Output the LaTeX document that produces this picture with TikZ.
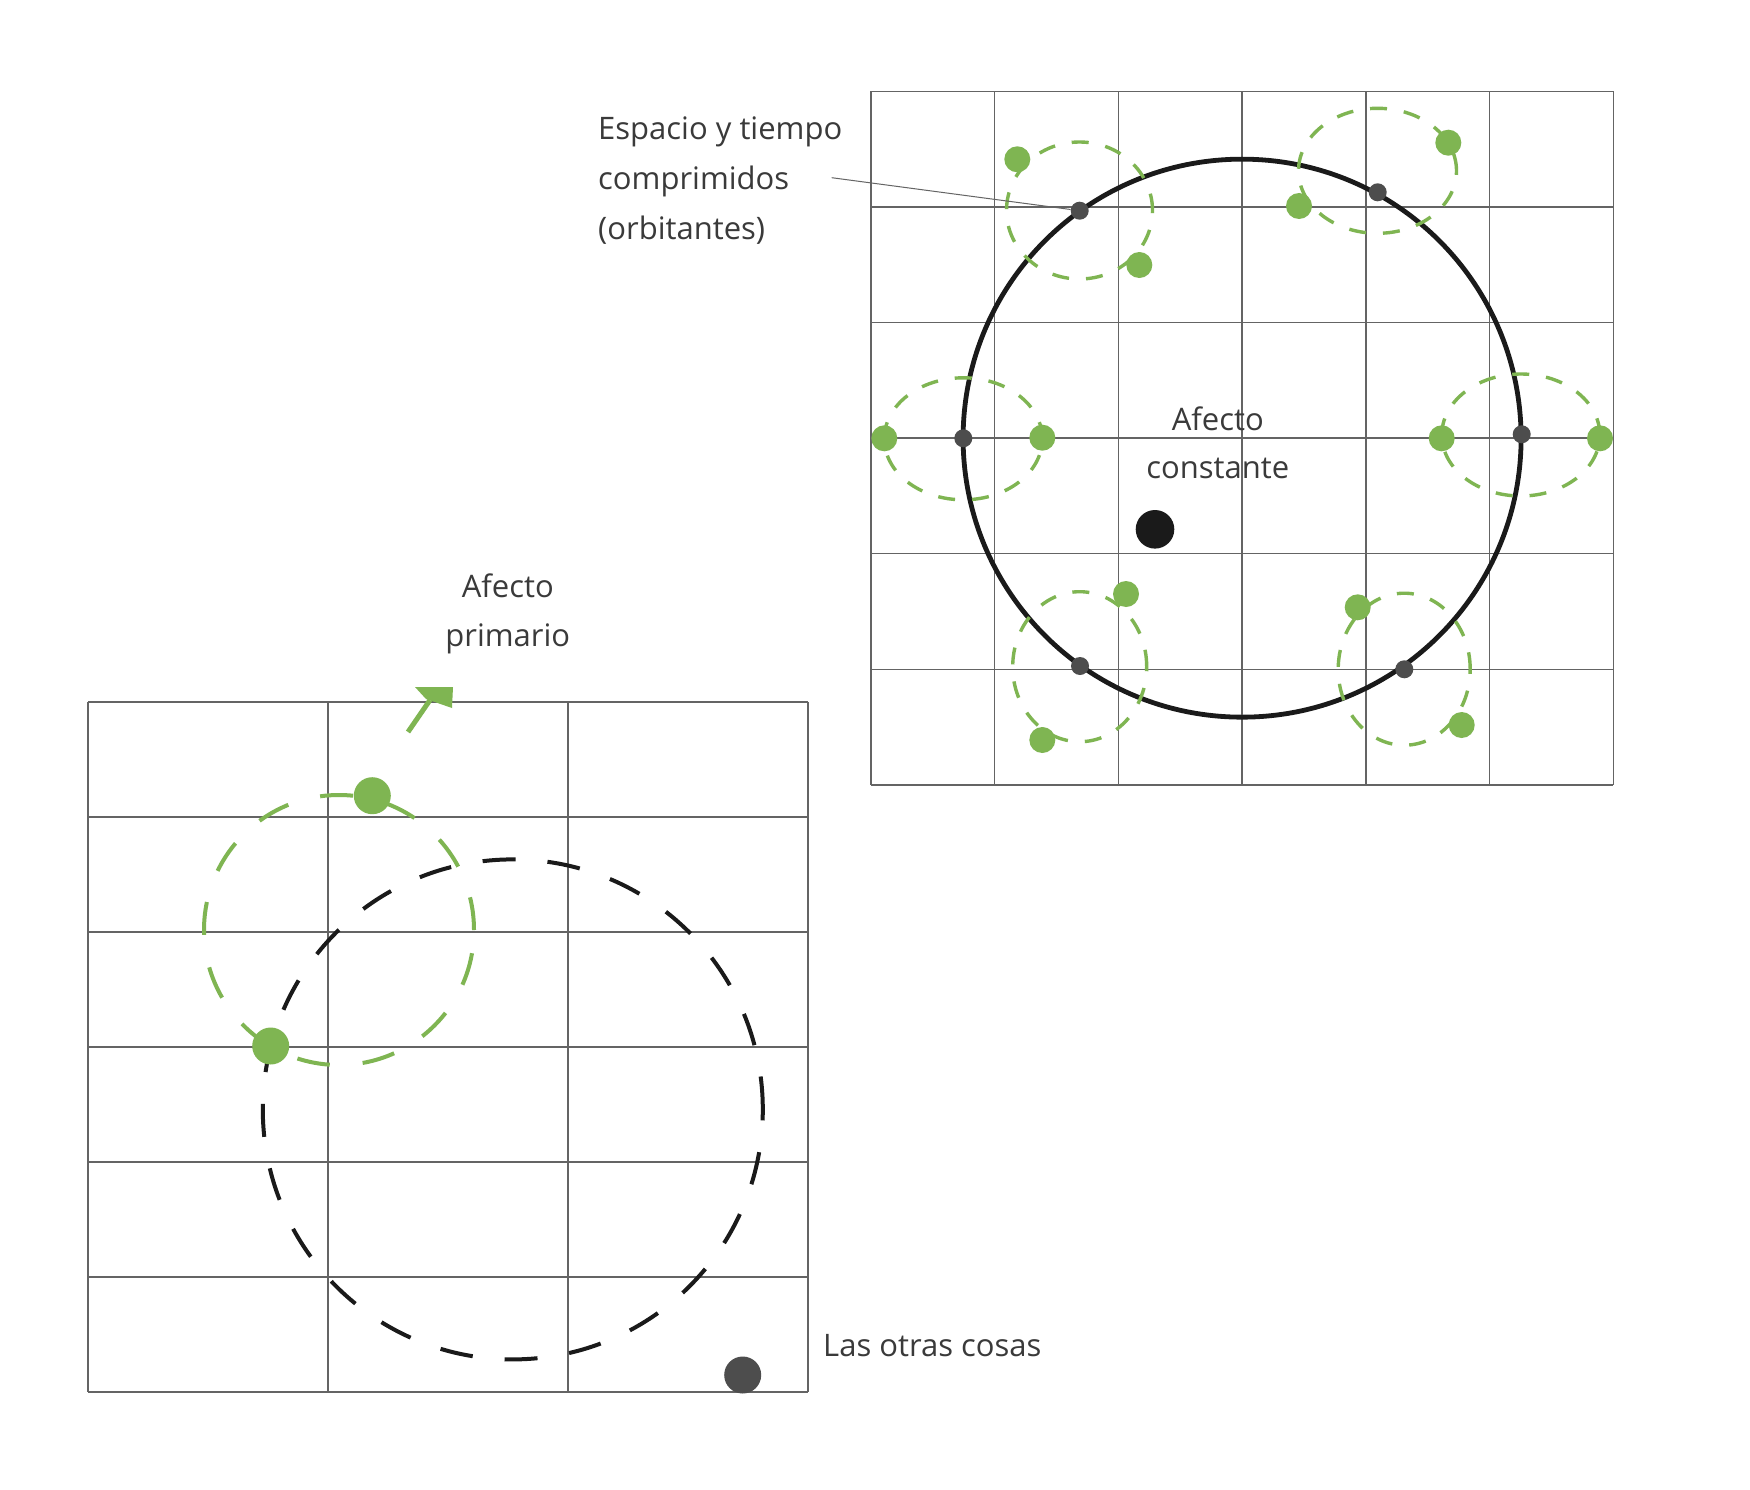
\documentclass[tikz,border=0pt]{standalone}
\usepackage{fontspec}
\setmainfont{Open Sans}
\definecolor{lgreen}{RGB}{127,181,82}
\definecolor{gridc}{RGB}{100,100,100}
\definecolor{txt}{RGB}{58,58,58}
\definecolor{ddot}{RGB}{77,77,77}
\definecolor{bigblack}{RGB}{26,26,26}
\begin{document}
\begin{tikzpicture}[x=1pt,y=-1pt,
  gridline/.style={draw=gridc, line width=1.4pt},
  orbit/.style={draw=lgreen, line width=3.4pt, dash pattern=on 17pt off 17pt},
  bigorbit/.style={draw=lgreen, line width=4pt, dash pattern=on 33pt off 33pt},
  blackorbit/.style={draw=bigblack, line width=4pt, dash pattern=on 33pt off 32pt},
  gdot/.style={circle, fill=lgreen, inner sep=0pt, minimum size=26pt},
  bgdot/.style={circle, fill=lgreen, inner sep=0pt, minimum size=37pt},
  sdot/.style={circle, fill=ddot, inner sep=0pt, minimum size=18pt},
  lbl/.style={text=txt, font=\fontsize{31}{49}\selectfont, inner sep=0pt}
]
\useasboundingbox (0,0) rectangle (1750,1490);
\fill[white] (0,0) rectangle (1750,1490);

% ---------- right grid ----------
\foreach \i in {0,...,6} {
  \draw[gridline] (871+123.7*\i,91.5) -- (871+123.7*\i,784.8);
  \draw[gridline] (871,91.5+115.55*\i) -- (1613.2,91.5+115.55*\i);
}
% big circle
\draw[bigblack, line width=4.8pt] (1242.1,438.15) circle[radius=279pt];

% orbits
\draw[orbit] (1079.5,210.5) ellipse[x radius=73pt, y radius=68.5pt];
\draw[orbit] (1377.5,170.8) ellipse[x radius=79pt, y radius=62.5pt];
\draw[orbit] (963.3,438.8) ellipse[x radius=79pt, y radius=61pt];
\draw[orbit] (1520.8,435) ellipse[x radius=79pt, y radius=61pt];
\draw[orbit] (1079.7,666.7) ellipse[x radius=67pt, y radius=75pt];
\draw[orbit] (1404.2,669.2) ellipse[x radius=66pt, y radius=76pt];

% dark dots on the circle
\node[sdot] (d1) at (1079.7,210.7) {};
\node[sdot] (d2) at (1377.7,192.3) {};
\node[sdot] (d3) at (963.3,438.3) {};
\node[sdot] (d4) at (1521.7,434.3) {};
\node[sdot] (d5) at (1080,666) {};
\node[sdot] (d6) at (1404.3,669.3) {};

% green dots
\node[gdot] (g1a) at (1017.3,159.3) {};
\node[gdot] (g1b) at (1139.3,265) {};
\node[gdot] (g2a) at (1299,206) {};
\node[gdot] (g2b) at (1448.3,142.7) {};
\node[gdot] (g3a) at (884.3,438.3) {};
\node[gdot] (g3b) at (1042.3,437.7) {};
\node[gdot] (g4a) at (1441.7,438.3) {};
\node[gdot] (g4b) at (1600,438.3) {};
\node[gdot] (g5a) at (1126,594) {};
\node[gdot] (g5b) at (1042.3,740) {};
\node[gdot] (g6a) at (1357.7,607.3) {};
\node[gdot] (g6b) at (1461.7,725) {};

% central black dot
\node[circle, fill=bigblack, inner sep=0pt, minimum size=38.6pt] (core) at (1155,529.3) {};

% leader
\coordinate (lead) at (831.7,177.7);
\draw[gridc, line width=1pt] (lead) -- (d1);

% labels right
\node[lbl, anchor=base west] (t1) at (598,139.3) {Espacio y tiempo};
\node[lbl, anchor=base west] (t2) at (598,189.3) {comprimidos};
\node[lbl, anchor=base west] (t3) at (598,239.3) {(orbitantes)};
\node[lbl, anchor=base] (t4) at (1217.8,430) {Afecto};
\node[lbl, anchor=base] (t5) at (1217.8,478.3) {constante};

% ---------- left grid ----------
\foreach \i in {0,...,3} {
  \draw[gridline] (88+240*\i,702) -- (88+240*\i,1392);
}
\foreach \i in {0,...,6} {
  \draw[gridline] (88,702+115*\i) -- (808,702+115*\i);
}
\draw[blackorbit] (512.8,1109.4) circle[radius=250pt];
\draw[bigorbit] (339,930) circle[radius=135pt];

% arrow
\coordinate (arrS) at (408,732);
\coordinate (arrE) at (430,700);
\draw[lgreen, line width=5pt] (arrS) -- (arrE);
\fill[lgreen] (415,687) -- (453,687) -- (452,708) -- (426,699) -- cycle;

\node[bgdot] (p1) at (372.3,795.7) {};
\node[bgdot] (p2) at (270.7,1046) {};
\node[circle, fill=ddot, inner sep=0pt, minimum size=37pt] (other) at (742.7,1375) {};

\node[lbl, anchor=base] (t6) at (507.8,597) {Afecto};
\node[lbl, anchor=base] (t7) at (507.8,646) {primario};
\node[lbl, anchor=base west] (t8) at (823,1356) {Las otras cosas};
\end{tikzpicture}
\end{document}
